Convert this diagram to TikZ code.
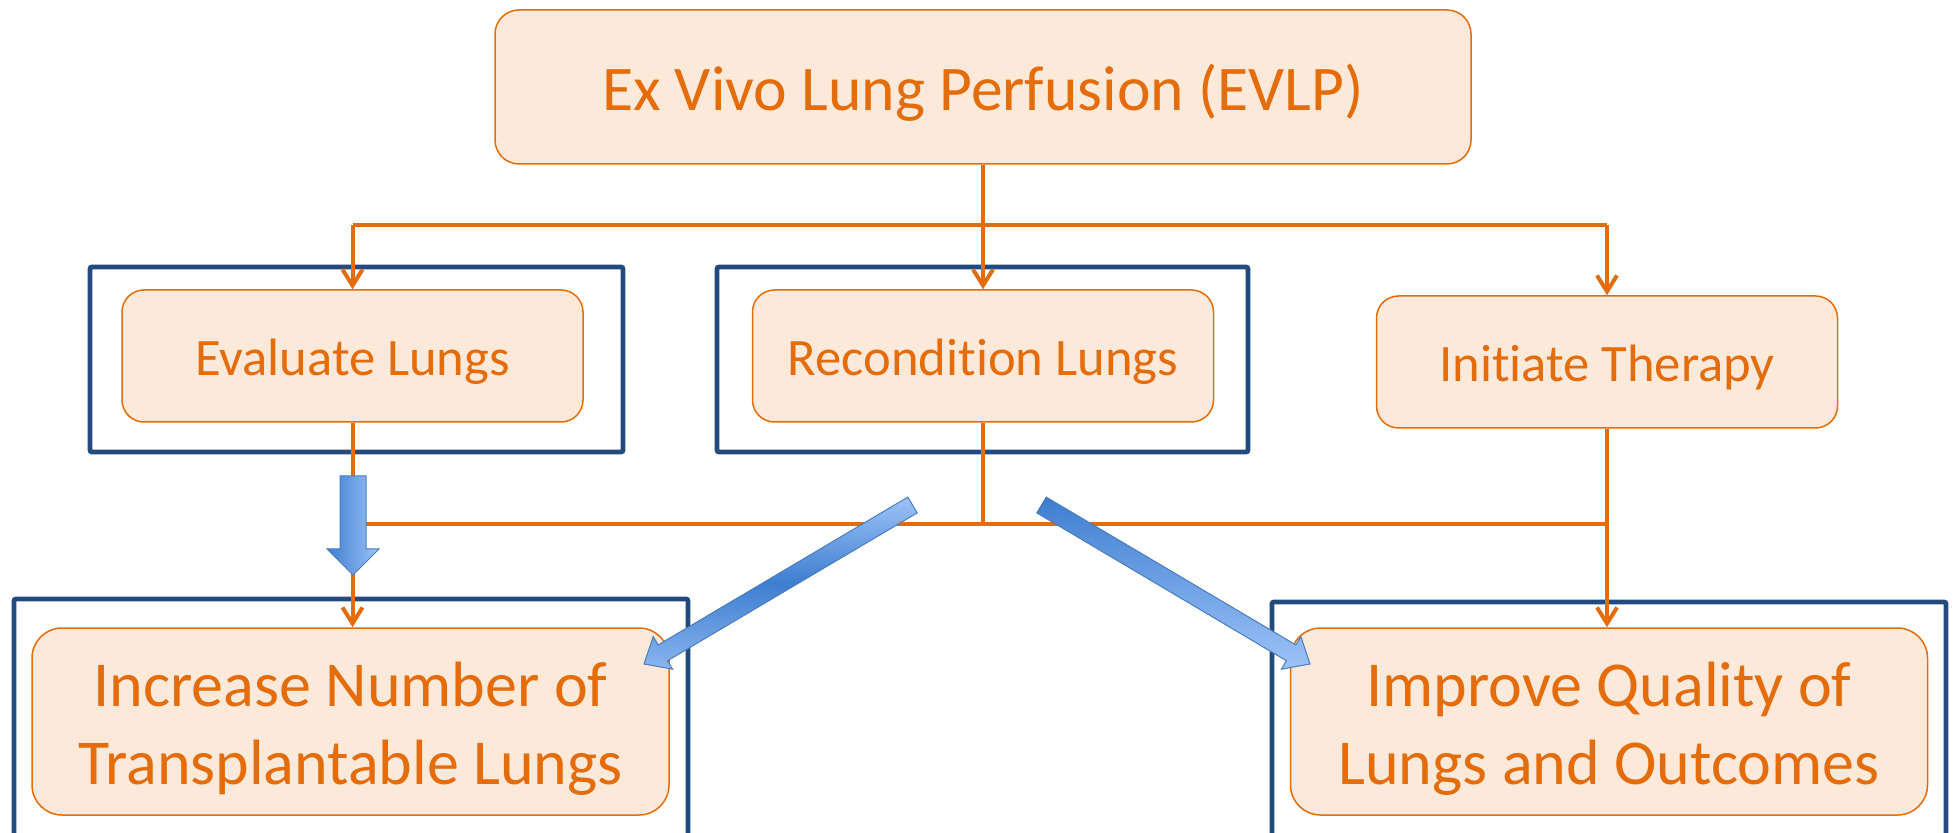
\documentclass[tikz,border=0pt]{standalone}
\usepackage{fontspec}
\setmainfont{Carlito}[Ligatures={NoCommon}]
\usetikzlibrary{arrows.meta}
\definecolor{orng}{RGB}{228,108,10}
\definecolor{peach}{RGB}{253,233,217}
\definecolor{navy}{RGB}{35,74,125}
\definecolor{bdark}{RGB}{62,126,208}
\definecolor{blight}{RGB}{157,195,248}
\definecolor{bedge}{RGB}{74,126,187}
\begin{document}
\begin{tikzpicture}[x=0.5pt,y=-0.5pt,
  box/.style={draw=orng, line width=0.75pt, fill=peach, rounded corners=11pt, text=orng, inner sep=0pt},
  midbox/.style={box, minimum width=230.5pt, minimum height=66pt, font=\fontsize{26.3}{31}\selectfont, text height=19.2pt, text depth=0pt},
  bigbox/.style={box, rounded corners=15pt, minimum width=318.5pt, minimum height=93.5pt, font=\fontsize{32}{39}\selectfont, align=center},
  frame/.style={draw=navy, line width=2.4pt, rounded corners=1pt},
  conn/.style={draw=orng, line width=2pt},
  arr/.style={conn, -{Straight Barb[length=8pt,width=10pt]}},
  blk/.style={draw=bedge, line width=0.5pt}]
\useasboundingbox (0,0) rectangle (1959,833);
\clip (0,0) rectangle (1959,833);
% frames
\draw[frame] (90,267) rectangle (623,452);
\draw[frame] (717,267) rectangle (1248,452);
\draw[frame] (14,599) rectangle (688,860);
\draw[frame] (1272,602) rectangle (1946,860);
% nodes
\node[box, rounded corners=12pt, minimum width=488pt, minimum height=77pt, font=\fontsize{31.8}{36}\selectfont, text height=23.5pt, text depth=0pt] (evlp) at (983,87) {Ex Vivo Lung Perfusion (EVLP)};
\node[midbox] (eval) at (352.5,356) {Evaluate Lungs};
\node[midbox] (recon) at (983,356) {Recondition Lungs};
\node[midbox] (init) at (1607,362) {Initiate Therapy};
\node[bigbox] (incr) at (350.5,721.5) {\raisebox{-3.5pt}[\height][\depth]{\parbox{318pt}{\centering Increase Number of\\Transplantable Lungs}}};
\node[bigbox] (impr) at (1609,721.5) {\raisebox{-3.5pt}[\height][\depth]{\parbox{318pt}{\centering Improve Quality of\\Lungs and Outcomes}}};
\coordinate (bustop) at (983,225);
\coordinate (busbot) at (983,524);
% connectors
\draw[arr] (evlp.south) -- (recon.north);
\draw[conn] (eval.north |- bustop) -- (init.north |- bustop);
\draw[arr] (eval.north |- bustop) -- (eval.north);
\draw[arr] (init.north |- bustop) -- (init.north);
\draw[arr] (eval.south) -- (eval.south |- incr.north);
\draw[arr] (init.south) -- (init.south |- impr.north);
\draw[conn] (recon.south) -- (recon.south |- busbot);
\draw[conn] (eval.south |- busbot) -- (init.south |- busbot);
% blue block arrows
\draw[blk, left color=bdark, right color=blight] (340,476) -- (366,476) -- (366,549) -- (379,549) -- (353,575) -- (327,549) -- (340,549) -- cycle;
\draw[blk, top color=blight, bottom color=blight!80!bdark, middle color=bdark] (907.8,497.1) -- (658.2,644.9) -- (653.2,636.5) -- (644,664) -- (672.6,669.2) -- (667.6,660.7) -- (917.2,512.9) -- cycle;
\draw[blk, top color=bdark, bottom color=blight] (1046.2,497.1) -- (1295.8,644.9) -- (1300.8,636.5) -- (1310,664) -- (1281.4,669.2) -- (1286.4,660.7) -- (1036.8,512.9) -- cycle;
\end{tikzpicture}
\end{document}
